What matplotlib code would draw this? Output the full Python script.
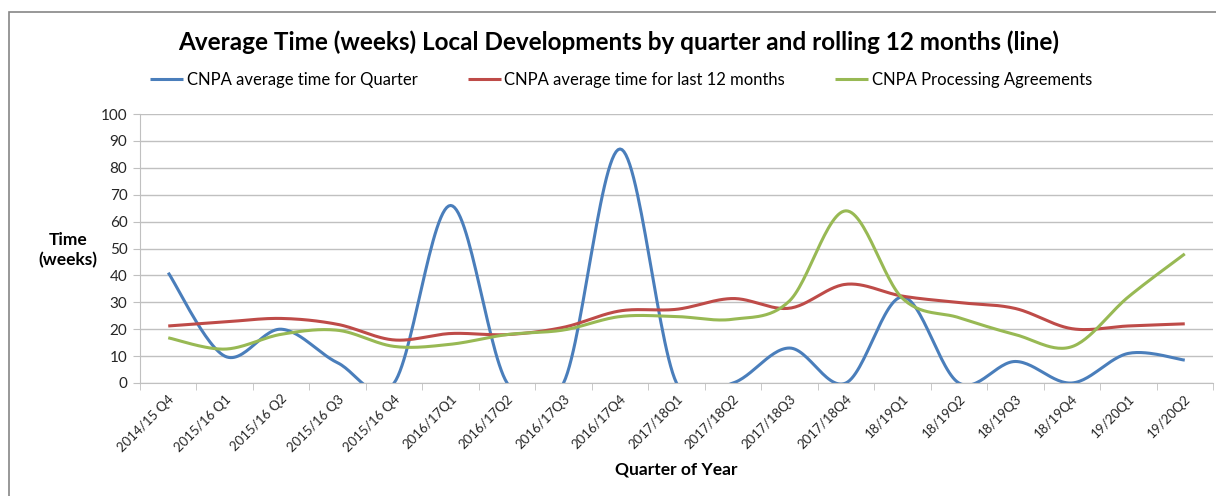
import numpy as np
import matplotlib

matplotlib.use("Agg")
import matplotlib.pyplot as plt
from matplotlib.patches import Rectangle

plt.rcParams["font.family"] = ["Lato", "DejaVu Sans"]

quarters = [
    "2014/15 Q4", "2015/16 Q1", "2015/16 Q2", "2015/16 Q3", "2015/16 Q4",
    "2016/17Q1", "2016/17Q2", "2016/17Q3", "2016/17Q4", "2017/18Q1",
    "2017/18Q2", "2017/18Q3", "2017/18Q4", "18/19Q1", "18/19Q2",
    "18/19Q3", "18/19Q4", "19/20Q1", "19/20Q2",
]
quarter_avg = [41, 10, 20, 7.5, 0, 66, 0, 0, 87, 0, 0, 13, 0, 32, 0, 8, 0, 11, 8.5]
rolling_12m = [21.2, 22.7, 24, 21.8, 16, 18.4, 18, 20.7, 26.8, 27.4,
               31.4, 27.8, 36.7, 32.3, 29.9, 27.7, 20.2, 21.2, 22]
processing_agreements = [16.8, 12.6, 18.1, 19.6, 13.6, 14.4, 18, 19.7, 24.7, 24.7,
                         23.7, 30.5, 64, 31.5, 24.3, 18, 13.5, 32, 48]

BLUE = "#4a7ebb"
RED = "#be4b48"
GREEN = "#98b954"
GRID = "#c0c0c0"


def smooth(y, n=30):
    # excel-style smoothed line: cubic bezier through points, catmull-rom handles
    y = np.asarray(y, dtype=float)
    x = np.arange(len(y), dtype=float)
    px = np.concatenate([[x[0]], x, [x[-1]]])
    py = np.concatenate([[y[0]], y, [y[-1]]])
    t = np.linspace(0, 1, n)[:, None]
    xs, ys = [], []
    for i in range(len(y) - 1):
        p0 = np.array([px[i + 1], py[i + 1]])
        p3 = np.array([px[i + 2], py[i + 2]])
        c1 = p0 + (np.array([px[i + 2], py[i + 2]]) - np.array([px[i], py[i]])) / 6
        c2 = p3 - (np.array([px[i + 3], py[i + 3]]) - np.array([px[i + 1], py[i + 1]])) / 6
        b = (1 - t) ** 3 * p0 + 3 * (1 - t) ** 2 * t * c1 + 3 * (1 - t) * t ** 2 * c2 + t ** 3 * p3
        xs.append(b[:, 0])
        ys.append(b[:, 1])
    return np.concatenate(xs), np.concatenate(ys)


fig = plt.figure(figsize=(12.16, 4.96), dpi=100, facecolor="white")
fig.patches.append(Rectangle((9 / 1216, -0.1), 1.2, 1.1 - 12 / 496, transform=fig.transFigure,
                             fill=False, edgecolor="#868686", linewidth=1.2, zorder=0))

ax = fig.add_axes([140 / 1216, 1 - 383 / 496, (1213 - 140) / 1216, (383 - 114) / 496])

for vals, clr, lbl in [
    (quarter_avg, BLUE, "CNPA average time for Quarter"),
    (rolling_12m, RED, "CNPA average time for last 12 months"),
    (processing_agreements, GREEN, "CNPA Processing Agreements"),
]:
    sx, sy = smooth(vals)
    ax.plot(sx, sy, color=clr, linewidth=2.2, label=lbl, solid_capstyle="butt")

ax.set_xlim(-0.5, len(quarters) - 0.5)
ax.set_ylim(0, 100)
ax.set_yticks(range(0, 101, 10))
ax.grid(axis="y", color=GRID, linewidth=1.0)
ax.set_axisbelow(True)
for side in ["top", "right"]:
    ax.spines[side].set_visible(False)
ax.spines["left"].set_color(GRID)
ax.spines["bottom"].set_color(GRID)

ax.set_xticks(range(len(quarters)))
ax.set_xticks(np.arange(-0.5, len(quarters), 1), minor=True)
ax.set_xticklabels(quarters, rotation=45, ha="right", va="top", rotation_mode="anchor", fontsize=9.5)
ax.tick_params(axis="x", which="major", length=0, pad=7, colors="#262626")
ax.tick_params(axis="x", which="minor", length=5, color=GRID)
ax.tick_params(axis="y", length=5, color=GRID, labelsize=11, labelcolor="#262626", pad=4)

ax.set_xlabel("Quarter of Year", fontsize=12.5, fontweight="bold", labelpad=6)
fig.text(68 / 1216, 1 - 250 / 496, "Time\n(weeks)", ha="center", va="center",
         fontsize=12.5, fontweight="bold", linespacing=1.3)

fig.text(619 / 1216, 1 - 42 / 496,
         "Average Time (weeks) Local Developments by quarter and rolling 12 months (line)",
         ha="center", va="center", fontsize=17.5, fontweight="bold")

ax.legend(loc="center", bbox_to_anchor=(621 / 1216, 1 - 80 / 496), bbox_transform=fig.transFigure,
          ncol=3, frameon=False, fontsize=12, handlelength=2.0, handletextpad=0.2,
          columnspacing=3.0)

plt.savefig("out.png", dpi=100, facecolor="white")
